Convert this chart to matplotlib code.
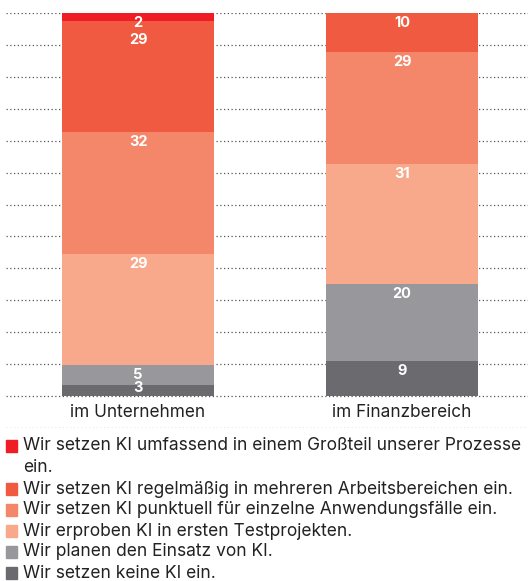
import matplotlib
matplotlib.use("Agg")
import matplotlib.pyplot as plt
from matplotlib.patches import Rectangle
import numpy as np

plt.rcParams['font.family'] = ['Inter', 'DejaVu Sans']

categories = ["im Unternehmen", "im Finanzbereich"]
series_labels = [
    "Wir setzen keine KI ein.",
    "Wir planen den Einsatz von KI.",
    "Wir erproben KI in ersten Testprojekten.",
    "Wir setzen KI punktuell für einzelne Anwendungsfälle ein.",
    "Wir setzen KI regelmäßig in mehreren Arbeitsbereichen ein.",
    "Wir setzen KI umfassend in einem Großteil unserer Prozesse\nein.",
]
keine = [3, 9]
planen = [5, 20]
erproben = [29, 31]
punktuell = [32, 29]
regelmaessig = [29, 10]
umfassend = [2, 0]
series_values = [keine, planen, erproben, punktuell, regelmaessig, umfassend]
colors = ["#6b6b6f", "#98989c", "#f8a98c", "#f4866a", "#f05a40", "#ee1d26"]

W, H = 528, 581
fig = plt.figure(figsize=(W/100, H/100), dpi=100)
ax = fig.add_axes([6/W, 1-428/H, 522/W, (428-13)/H])

step = 100/12
ax.set_ylim(-step, 100)
ax.set_xlim(-0.5, 1.477)

vals = np.array(series_values, dtype=float)
totals = vals.sum(axis=0)
shares = vals / totals * 100
x = np.arange(len(categories))
width = 0.576
bottom = np.zeros(len(categories))
tops = []
for vrow, srow, c in zip(vals, shares, colors):
    ax.bar(x, srow, width, bottom=bottom, color=c, zorder=2, linewidth=0)
    tops.append(bottom + srow)
    bottom += srow

# labels near the top of each segment, kept apart and inside the bar
px_per_unit = (428-13)/(100+step)
base_px = 100 * px_per_unit  # pixel offset of value 0 from axes top
for j, xi in enumerate(x):
    last_y = None
    for i in range(len(vals)-1, -1, -1):
        v = vals[i][j]
        if v <= 0:
            continue
        top_px = (100 - tops[i][j]) * px_per_unit
        ypx = top_px + 10
        if last_y is not None and ypx - last_y < 17:
            ypx = last_y + 17
        ypx = min(ypx, base_px - 8)
        last_y = ypx
        yd = 100 - ypx/px_per_unit
        ax.text(xi, yd, f"{int(v)}", ha="center", va="center", color="white",
                fontsize=10.5, fontweight="bold", zorder=3)

for k in range(-1, 13):
    ax.axhline(k*step, color="#555555", linestyle=(0, (1, 2)), linewidth=0.9, zorder=1)
for xi, cat in zip(x, categories):
    ax.text(xi, -step/2, cat, ha="center", va="center", fontsize=12.4, color="#222222")
ax.set_xticks([])
ax.set_yticks([])
for sp in ax.spines.values():
    sp.set_visible(False)

# legend (top series first)
y = 446
for lab, c in zip(series_labels[::-1], colors[::-1]):
    fig.patches.append(Rectangle((6/W, 1-(y+6)/H), 11/W, 12/H,
                                 transform=fig.transFigure, color=c, figure=fig))
    for line in lab.split("\n"):
        fig.text(23/W, 1-y/H, line, ha="left", va="center", fontsize=12.5, color="#222222")
        y += 22
    y -= 1

fig.savefig("out.png", dpi=100)
